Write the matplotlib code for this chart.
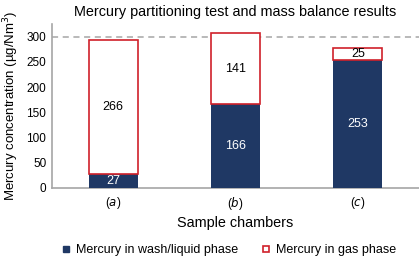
import numpy as np
import matplotlib
matplotlib.use('Agg')
import matplotlib.pyplot as plt
from matplotlib.patches import Patch

plt.rcParams['font.family'] = ['Liberation Sans', 'DejaVu Sans']

# data
chambers = ['a', 'b', 'c']
liquid = [27, 166, 253]
gas = [266, 141, 25]

navy = '#1f3864'
red = '#d0202a'
grey = '#a6a6a6'

fig = plt.figure(figsize=(4.19, 2.56), dpi=100)
ax = fig.add_axes([0.124, 0.266, 0.876, 0.64])

x = np.arange(len(chambers))
w = 0.4
ax.bar(x, liquid, w, color=navy, label='Mercury in wash/liquid phase', zorder=3)
ax.bar(x, gas, w, bottom=liquid, facecolor='white', edgecolor=red, linewidth=1.2,
       label='Mercury in gas phase', zorder=3)

for xi, l, g in zip(x, liquid, gas):
    ax.text(xi, l / 2, str(l), ha='center', va='center', color='white', fontsize=9, zorder=4)
    ax.text(xi, l + g / 2, str(g), ha='center', va='center', color='black', fontsize=9, zorder=4)

ax.axhline(300, color=grey, linestyle=(0, (4, 3)), linewidth=1.1, zorder=2)

ax.set_xlim(-0.5, 2.5)
ax.set_ylim(0, 325)
ax.set_yticks(range(0, 301, 50))
ax.set_xticks(x)
ax.set_xticklabels(['(' + r'$\it{' + c + '}$' + ')' for c in chambers])
ax.tick_params(axis='both', labelsize=8.5, length=0, pad=4)
ax.tick_params(axis='x', pad=5)

for s in ['top', 'right']:
    ax.spines[s].set_visible(False)
for s in ['left', 'bottom']:
    ax.spines[s].set_color(grey)
    ax.spines[s].set_linewidth(1.2)

ax.set_title('Mercury partitioning test and mass balance results', fontsize=10.4, pad=6)
ax.set_xlabel('Sample chambers', fontsize=10.4, labelpad=3)
ax.set_ylabel('Mercury concentration (µg/Nm$^3$)', fontsize=9.5, labelpad=4)

handles = [Patch(facecolor=navy, edgecolor=navy),
           Patch(facecolor='white', edgecolor=red, linewidth=1.2)]
fig.legend(handles, ['Mercury in wash/liquid phase', 'Mercury in gas phase'],
           loc='center', bbox_to_anchor=(0.548, 0.022), ncol=2, frameon=False,
           fontsize=9, handlelength=0.45, handleheight=0.45, columnspacing=2.0, handletextpad=0.55)

fig.savefig('out.png', dpi=100)
